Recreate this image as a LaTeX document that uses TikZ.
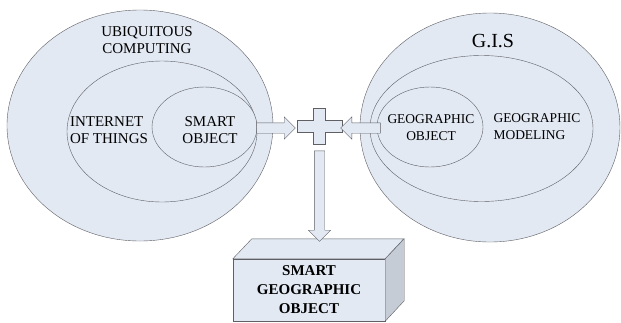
\documentclass[tikz,border=0pt]{standalone}
\usepackage{fontspec}
\setmainfont{Liberation Serif}
\usetikzlibrary{shapes.geometric}
\usetikzlibrary{shapes.arrows}
\usetikzlibrary{positioning}
\usetikzlibrary{calc}
\definecolor{paleblue}{RGB}{226,233,243}
\definecolor{sidegray}{RGB}{197,204,214}
\definecolor{edgegray}{RGB}{95,95,100}

\begin{document}
\begin{tikzpicture}[x=1pt, y=-1pt,
	blob/.style={ellipse, draw=edgegray, fill=paleblue, inner sep=0pt},
	lbl/.style={font=\fontsize{15}{17.5}\selectfont, inner sep=0pt},
	rlbl/.style={font=\fontsize{13.5}{17}\selectfont, inner sep=0pt},
	fatarrow/.style={to path={let \p1=(\tikztostart), \p2=(\tikztotarget),
		\n1={veclen(\x2-\x1,\y2-\y1)}, \n2={atan2(\y2-\y1,\x2-\x1)} in
		node[single arrow, draw=edgegray, fill=paleblue, inner sep=5pt,
		single arrow head extend=6pt, minimum height=\n1, rotate=\n2]
		at ($(\p1)!0.5!(\p2)$) {}}}]
	\useasboundingbox (0,0) rectangle (621,322);
				% left circles
	\node[blob, minimum width=266, minimum height=231] (ubi) at (140,125.5) {};
	\node[blob, minimum width=190, minimum height=141] (iot) at (162,131.5) {};
	\node[blob, minimum width=105, minimum height=80] (smart) at (204.5,127) {};
	\node[lbl, align=center] (ubitxt) at (147,40) {UBIQUITOUS\\COMPUTING};
	\node[lbl, align=left] (iottxt) at (109,130) {INTERNET\\OF THINGS};
	\node[lbl, align=center] (smarttxt) at (210,130) {SMART\\OBJECT};
				% right circles
	\node[blob, minimum width=260, minimum height=229] (gis) at (490,127.5) {};
	\node[blob, minimum width=223, minimum height=146] (model) at (481.5,128.5) {};
	\node[blob, minimum width=106, minimum height=80] (geo) at (430,127) {};
	\node[font=\fontsize{20}{22}\selectfont, inner sep=0pt] (gistxt) at (493,41) {G.I.S};
	\node[rlbl, align=center] (geotxt) at (431,128) {GEOGRAPHIC\\OBJECT};
	\node[rlbl, align=left] (modeltxt) at (537,127) {GEOGRAPHIC\\MODELING};
				% plus in the middle
	\node[minimum width=45, minimum height=36, inner sep=0pt] (plus) at (319.5,126) {};
	\filldraw[fill=paleblue, draw=edgegray, shift={(plus.center)}]
		(-6,-18) -- (6,-18) -- (6,-6) -- (22.5,-6) -- (22.5,6) -- (6,6) -- (6,18)
		-- (-6,18) -- (-6,6) -- (-22.5,6) -- (-22.5,-6) -- (-6,-6) -- cycle;
				% box at the bottom
	\node[draw=edgegray, fill=paleblue, minimum width=152, minimum height=62,
		inner sep=0pt, align=center, font=\bfseries\fontsize{15}{19}\selectfont]
		(sgo) at (309,290) {SMART\\GEOGRAPHIC\\OBJECT};
	\filldraw[fill=paleblue, draw=edgegray] (sgo.north west) -- ++(19,-20) -- ++(152,0) -- (sgo.north east) -- cycle;
	\filldraw[fill=sidegray, draw=edgegray] (sgo.north east) -- ++(19,-20) -- ++(0,62) -- (sgo.south east) -- cycle;
	\coordinate (boxtop) at ($(sgo.north)+(10.5,-20)$);
				% arrows
	\coordinate (ltail) at (254,128);
	\coordinate (rtail) at (383,128);
	\path (ltail) to[fatarrow] ($(plus.west)+(-4,2)$);
	\path (rtail) to[fatarrow] ($(plus.east)+(1,2)$);
	\path ($(plus.south)+(0,4)$) to[fatarrow] (boxtop);
\end{tikzpicture}
\end{document}
